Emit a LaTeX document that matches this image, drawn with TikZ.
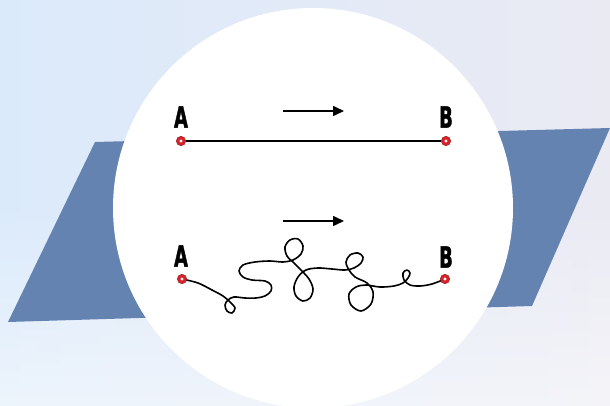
\documentclass[tikz,border=0pt]{standalone}
\usepackage{fontspec}
\setmainfont{DejaVu Sans}
\newfontfamily\lblfont[BoldFeatures={FakeBold=1.8}]{DejaVu Sans}
\usetikzlibrary{arrows.meta,fadings}
\definecolor{bgA}{RGB}{219,234,251}
\definecolor{bgB}{RGB}{234,234,243}
\definecolor{para}{RGB}{100,131,177}
\definecolor{dotred}{RGB}{214,34,40}
\tikzset{
  lbl/.style={font=\lblfont\fontsize{29}{29}\selectfont\bfseries, inner sep=0pt, anchor=center},
  pt/.style={circle, fill=dotred, draw=dotred!70!black, line width=0.4pt, minimum size=9.5pt, inner sep=0pt,
     path picture={\fill[white] (path picture bounding box.center) circle (1.6pt);}},
  dirarrow/.style={line width=1.6pt, -{Triangle[length=11pt,width=10pt]}},
  wire/.style={line width=1.5pt, black},
}
\begin{document}
\begin{tikzpicture}[x=1pt,y=-1pt]
\useasboundingbox (0,0) rectangle (610,406);
% background
\shade[left color=bgA, right color=bgB] (0,0) rectangle (610,406);
\fill[white, opacity=0.5, path fading=north] (0,200) rectangle (610,406);
% parallelogram band
\fill[para] (95,142) -- (610,128) -- (532,306) -- (8,322) -- cycle;
% white circle
\fill[white] (313,208) circle (200);
% top row
\node[pt] (A1) at (181,141) {};
\node[pt] (B1) at (446,141) {};
\draw[wire] (A1) -- (B1);
\node[lbl] (LA1) at (181,117) {\scalebox{0.62}[1]{A}};
\node[lbl] (LB1) at (446,117) {\scalebox{0.62}[1]{B}};
\coordinate (s1) at (283,111);
\coordinate (e1) at (344,111);
\draw[dirarrow] (s1) -- (e1);
% bottom row
\coordinate (s2) at (283,221);
\coordinate (e2) at (344,221);
\draw[dirarrow] (s2) -- (e2);
\node[lbl] (LA2) at (181,256) {\scalebox{0.62}[1]{A}};
\node[lbl] (LB2) at (446,257) {\scalebox{0.62}[1]{B}};
\coordinate (A2c) at (182,279);
\coordinate (B2c) at (445,279);
\draw[wire, line width=1.6pt, line join=round, line cap=round] plot[smooth, tension=0.55] coordinates {
 (A2c) (198,283) (212,290) (223,296) (230,302) (235,308) (232,313) (227,311) (225,305) (228,300) (234,297)
 (245,298) (256,298) (265,296) (271,291) (271,285) (265,281) (252,280) (243,277) (239,271) (243,265) (255,262)
 (270,261) (283,262) (293,260) (301,254) (303,246) (298,239) (290,240) (285,247) (287,256) (294,263)
 (301,270) (309,279) (313,289) (310,298) (303,301) (296,296) (294,287) (298,277) (306,270) (318,268)
 (332,269) (345,270) (354,268) (361,263) (363,257) (358,253) (350,255) (346,262) (349,270)
 (355,277) (367,283) (373,292) (371,304) (361,311) (351,305) (349,294) (356,287) (366,285)
 (380,287) (394,286) (403,283) (408,278) (410,273) (407,270) (403,273) (404,280) (410,285)
 (420,286) (432,284) (B2c)};
\node[pt] (A2) at (A2c) {};
\node[pt] (B2) at (B2c) {};
\end{tikzpicture}
\end{document}
